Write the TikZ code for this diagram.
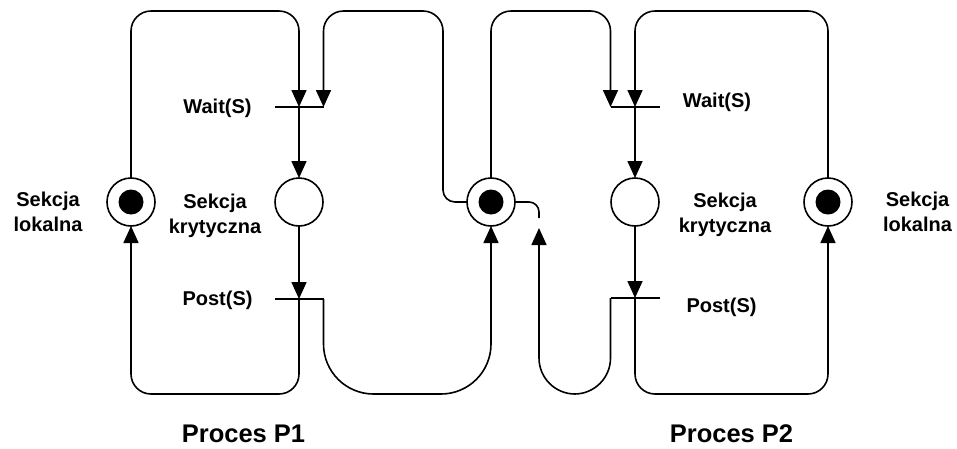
\documentclass[tikz,border=0pt]{standalone}
\usepackage{fontspec}
\setmainfont{Liberation Sans}
\usetikzlibrary{arrows.meta}

\begin{document}
\begin{tikzpicture}[x=1pt, y=-1pt,
  line width=1.6pt,
  place/.style={draw, circle, minimum size=48pt, inner sep=0pt, outer sep=0pt, fill=white},
  marked/.style={place, path picture={\fill[black] (path picture bounding box.center) circle (12.5pt);}},
  tbar/.style={rectangle, minimum width=49pt, minimum height=0pt, inner sep=0pt, outer sep=0pt},
  flow/.style={draw, -{Triangle[length=17pt, width=15pt]}},
  loopc/.style={rounded corners=20pt},
  lbl/.style={font=\bfseries\fontsize{20}{25}\selectfont, align=center, inner sep=0pt},
  title/.style={font=\bfseries\fontsize{25.5}{30}\selectfont, inner sep=0pt, anchor=base}
]
\useasboundingbox (0,0) rectangle (957,448);

% levels of the top and bottom runs of the loops
\coordinate (top) at (0,11);
\coordinate (bot) at (0,394);

% places
\node[marked] (l1) at (131,202) {};
\node[place]  (k1) at (299,202) {};
\node[marked] (s)  at (491,202) {};
\node[place]  (k2) at (635,202) {};
\node[marked] (l2) at (828,202) {};

% transitions
\node[tbar] (w1) at (299,107) {};
\node[tbar] (p1) at (299,299) {};
\node[tbar] (w2) at (635,107) {};
\node[tbar] (p2) at (635,298) {};
\foreach \t in {w1,p1,w2,p2} \draw (\t.west) -- (\t.east);

% free end of the arc entering from the second process
\coordinate (s2in) at (539,228);
\coordinate (s2out) at (539,218);

% process P1
\draw[flow, loopc] (l1.north) -- (l1 |- top) -- (w1 |- top) -- (w1.center);
\draw[flow] (w1.center) -- (k1.north);
\draw[flow] (k1.south) -- (p1.center);
\draw[flow, loopc] (p1.center) -- (p1 |- bot) -- (l1 |- bot) -- (l1.south);

% semaphore arcs
\draw[flow] (s.west) [rounded corners=12pt] -- (443,202) [rounded corners=20pt] -- (443,11) -- (w1.east |- top) -- (w1.east);
\draw[flow, rounded corners=50pt] (p1.east) -- (p1.east |- bot) -- (s |- bot) -- (s.south);
\draw[flow, loopc] (s.north) -- (s |- top) -- (w2.west |- top) -- (w2.west);
\draw[flow, rounded corners=36pt] (p2.west) -- (p2.west |- bot) -- (s2in |- bot) -- (s2in);
\draw[rounded corners=10pt] (s.east) -- (s2out |- s) -- (s2out);

% process P2
\draw[flow, loopc] (l2.north) -- (l2 |- top) -- (w2 |- top) -- (w2.center);
\draw[flow] (w2.center) -- (k2.north);
\draw[flow] (k2.south) -- (p2.center);
\draw[flow, loopc] (p2.center) -- (p2 |- bot) -- (l2 |- bot) -- (l2.south);

% labels
\node[lbl, anchor=base] (tw1) at (217.5,113) {Wait(S)};
\node[lbl, anchor=base] (tp1) at (217.5,305) {Post(S)};
\node[lbl, anchor=base] (tw2) at (717,107) {Wait(S)};
\node[lbl, anchor=base] (tp2) at (721.5,312) {Post(S)};
\node[lbl] (tl1) at (48,212) {Sekcja\\lokalna};
\node[lbl] (tk1) at (215,216) {Sekcja\\krytyczna};
\node[lbl] (tk2) at (725,215) {Sekcja\\krytyczna};
\node[lbl] (tl2) at (917.5,212) {Sekcja\\lokalna};
\node[title] (pp1) at (243.5,442) {Proces P1};
\node[title] (pp2) at (731.5,442) {Proces P2};
\end{tikzpicture}
\end{document}
